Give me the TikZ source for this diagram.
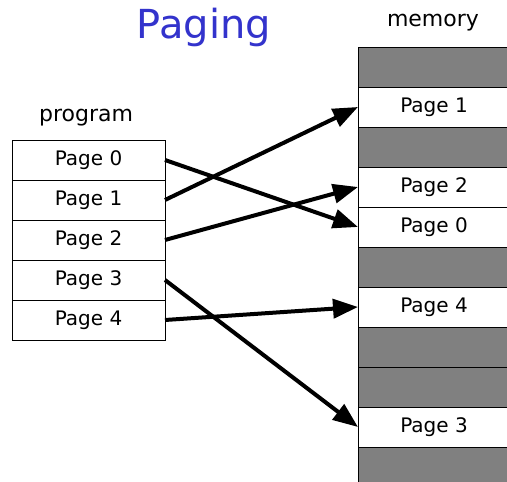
\documentclass[tikz,border=0pt]{standalone}
\usepackage{fontspec}
\setmainfont{DejaVu Sans}
\usepackage{xcolor}
\usepackage{tikz}
\usetikzlibrary{arrows.meta}
\definecolor{titleblue}{RGB}{51, 51, 204}
\definecolor{framegray}{RGB}{128, 128, 128}

\begin{document}
\begin{tikzpicture}[x=1pt, y=1pt,
  page/.style={draw, minimum width=153pt, minimum height=40pt, inner sep=0pt,
               outer sep=0pt, font=\fontsize{20}{24}\selectfont},
  frame/.style={page, minimum width=152pt},
  used/.style={frame, fill=framegray},
  arrow/.style={-{Triangle[length=25pt, width=19pt]}, line width=4pt},
  heading/.style={font=\fontsize{22}{26}\selectfont}
]
  \useasboundingbox (0, 0) rectangle (507, 482);

  % Titles
  \node[font=\fontsize{40}{46}\selectfont, text=titleblue] (title) at (204, 455) {Paging};
  \node[heading] (memlabel) at (433, 459) {memory};
  \node[heading] (proglabel) at (86, 364) {program};

  % Program pages
  \node[page] (p0) at (88.5, 322) {Page 0};
  \node[page] (p1) at (88.5, 282) {Page 1};
  \node[page] (p2) at (88.5, 242) {Page 2};
  \node[page] (p3) at (88.5, 202) {Page 3};
  \node[page] (p4) at (88.5, 162) {Page 4};

  % Memory frames
  \node[used]  (m1)  at (434, 415) {};
  \node[frame] (m2)  at (434, 375) {Page 1};
  \node[used]  (m3)  at (434, 335) {};
  \node[frame] (m4)  at (434, 295) {Page 2};
  \node[frame] (m5)  at (434, 255) {Page 0};
  \node[used]  (m6)  at (434, 215) {};
  \node[frame] (m7)  at (434, 175) {Page 4};
  \node[used]  (m8)  at (434, 135) {};
  \node[used]  (m9)  at (434,  95) {};
  \node[frame] (m10) at (434,  55) {Page 3};
  \node[used]  (m11) at (434,  15) {};

  % Arrows
  \draw[arrow] (p0.east) -- (m5.west);
  \draw[arrow] (p1.east) -- (m2.west);
  \draw[arrow] (p2.east) -- (m4.west);
  \draw[arrow] (p3.east) -- (m10.west);
  \draw[arrow] (p4.east) -- (m7.west);

\end{tikzpicture}
\end{document}
